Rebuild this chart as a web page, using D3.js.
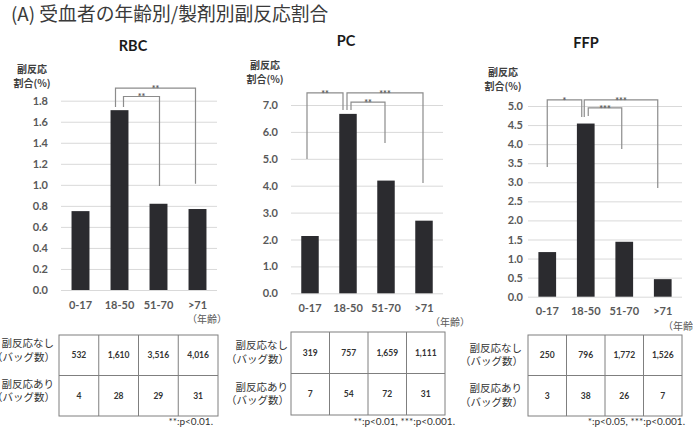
<!DOCTYPE html>
<html>
<head>
<meta charset="utf-8">
<script src="https://cdn.jsdelivr.net/npm/d3@7"></script>
<style>
  body { margin: 0; background: #fff; }
  svg { display: block; }
</style>
</head>
<body>
<svg id="chart" width="693" height="429"></svg>
<script>
// --- data ---
const ageGroups = ['0-17', '18-50', '51-70', '>71'];

const rbcRates = [0.75, 1.71, 0.82, 0.77];
const pcRates = [2.13, 6.67, 4.19, 2.70];
const ffpRates = [1.17, 4.54, 1.44, 0.46];

const rbcTicks = [0, 0.2, 0.4, 0.6, 0.8, 1.0, 1.2, 1.4, 1.6, 1.8];
const pcTicks = [0, 1, 2, 3, 4, 5, 6, 7];
const ffpTicks = [0, 0.5, 1.0, 1.5, 2.0, 2.5, 3.0, 3.5, 4.0, 4.5, 5.0];

const rbcNoReaction = [532, 1610, 3516, 4016];
const rbcReaction = [4, 28, 29, 31];
const pcNoReaction = [319, 757, 1659, 1111];
const pcReaction = [7, 54, 72, 31];
const ffpNoReaction = [250, 796, 1772, 1526];
const ffpReaction = [3, 38, 26, 7];

const rowLabels = [['副反応なし', '（バッグ数）'], ['副反応あり', '（バッグ数）']];

const rbcSig = [['18-50', '>71', '**'], ['18-50', '51-70', '**']];
const pcSig = [['0-17', '18-50', '**'], ['18-50', '>71', '***'], ['18-50', '51-70', '**']];
const ffpSig = [['0-17', '18-50', '*'], ['18-50', '>71', '***'], ['18-50', '51-70', '***']];

const rbcNote = '**:p<0.01.';
const pcNote = '**:p<0.01, ***:p<0.001.';
const ffpNote = '*:p<0.05, ***:p<0.001.';

const JP = '"Noto Sans CJK JP", sans-serif';
const LAT = 'Lato, "Noto Sans", sans-serif';
const fmt = d3.format(',');

const svg = d3.select('#chart');

svg.append('text')
    .attr('x', 11).attr('y', 21)
    .attr('font-family', JP).attr('font-size', 18.8)
    .attr('fill', '#3a3a3a')
    .text('(A) 受血者の年齢別/製剤別副反応割合');

// layout per panel (pixels, bracket levels in data units)
const panels = [
    {
        name: 'RBC', titleX: 133, titleY: 51,
        rates: rbcRates, ticks: rbcTicks, max: 1.8,
        left: 61, right: 217, zeroY: 290, topY: 100.7, labelRight: 48,
        yLabelX: 32, yLabelY: 73, unitX: 187,
        sig: rbcSig,
        brackets: [
            { top: 1.92, a: 1.74, b: 1.01, dxA: -4, dxB: -2 },
            { top: 1.84, a: 1.74, b: 0.99, dxA: 4, dxB: 1 }
        ],
        none: rbcNoReaction, some: rbcReaction, note: rbcNote,
        tLeft: 59, tRight: 218, tTop: 335, tBottom: 416, rowLabelX: 54, rowLabelDy: -3.5, noteX: 213
    },
    {
        name: 'PC', titleX: 346, titleY: 46,
        rates: pcRates, ticks: pcTicks, max: 7,
        left: 291, right: 443, zeroY: 293.3, topY: 105, labelRight: 278,
        yLabelX: 265, yLabelY: 69, unitX: 430,
        sig: pcSig,
        brackets: [
            { top: 7.45, a: 4.99, b: 6.81, dxA: -3, dxB: -5 },
            { top: 7.45, a: 6.81, b: 4.10, dxA: -1, dxB: -1 },
            { top: 7.11, a: 6.81, b: 5.59, dxA: 3, dxB: -1 }
        ],
        none: pcNoReaction, some: pcReaction, note: pcNote,
        tLeft: 291, tRight: 445, tTop: 332, tBottom: 415, rowLabelX: 288, rowLabelDy: 1, noteX: 455
    },
    {
        name: 'FFP', titleX: 586, titleY: 48,
        rates: ffpRates, ticks: ffpTicks, max: 5,
        left: 528, right: 682, zeroY: 296.7, topY: 106, labelRight: 523,
        yLabelX: 503, yLabelY: 76, unitX: 663,
        sig: ffpSig,
        brackets: [
            { top: 5.16, a: 3.40, b: 4.71, dxA: 0, dxB: -4 },
            { top: 5.16, a: 4.71, b: 2.85, dxA: -1.5, dxB: -5 },
            { top: 4.95, a: 4.74, b: 3.87, dxA: 2.5, dxB: -2.5 }
        ],
        none: ffpNoReaction, some: ffpReaction, note: ffpNote,
        tLeft: 528, tRight: 682, tTop: 335, tBottom: 416, rowLabelX: 522, rowLabelDy: 1, noteX: 685
    }
];

function drawPanel(p) {
    const g = svg.append('g');

    const x = d3.scaleBand()
        .domain(ageGroups)
        .range([p.left, p.right])
        .paddingInner(0.54)
        .paddingOuter(0.27);

    const y = d3.scaleLinear()
        .domain([0, p.max])
        .range([p.zeroY, p.topY]);

    // title
    g.append('text')
        .attr('x', p.titleX).attr('y', p.titleY)
        .attr('text-anchor', 'middle')
        .attr('font-family', LAT).attr('font-weight', 700).attr('font-size', 14.5)
        .attr('fill', '#1a1a1a')
        .text(p.name);

    // y axis label
    const yl = g.append('text')
        .attr('text-anchor', 'middle')
        .attr('font-family', JP).attr('font-weight', 700).attr('font-size', 10)
        .attr('fill', '#404040');
    yl.append('tspan').attr('x', p.yLabelX).attr('y', p.yLabelY).text('副反応');
    yl.append('tspan').attr('x', p.yLabelX).attr('y', p.yLabelY + 14).text('割合(%)');

    // gridlines + tick labels
    const yAxis = g.append('g')
        .attr('transform', `translate(${p.left},0)`)
        .call(d3.axisLeft(y)
            .tickValues(p.ticks)
            .tickFormat(d3.format('.1f'))
            .tickSize(-(p.right - p.left))
            .tickPadding(p.left - p.labelRight));
    yAxis.select('.domain').remove();
    yAxis.selectAll('.tick line').attr('stroke', '#d9d9d9');
    yAxis.selectAll('.tick text')
        .attr('font-family', LAT).attr('font-weight', 700).attr('font-size', 11)
        .attr('fill', '#595959');

    // bars
    g.append('g').selectAll('rect')
        .data(p.rates)
        .join('rect')
        .attr('x', (d, i) => x(ageGroups[i]))
        .attr('y', d => y(d))
        .attr('width', x.bandwidth())
        .attr('height', d => y(0) - y(d))
        .attr('fill', '#2b2b2f');

    // category labels
    const xAxis = g.append('g')
        .attr('transform', `translate(0,${p.zeroY})`)
        .call(d3.axisBottom(x).tickSize(0).tickPadding(11));
    xAxis.select('.domain').remove();
    xAxis.selectAll('.tick text')
        .attr('font-family', LAT).attr('font-weight', 700).attr('font-size', 11)
        .attr('fill', '#595959');

    g.append('text')
        .attr('x', p.unitX).attr('y', p.zeroY + 33)
        .attr('font-family', JP).attr('font-size', 10)
        .attr('fill', '#595959')
        .text('（年齢）');

    // significance brackets
    const cx = k => x(k) + x.bandwidth() / 2;
    p.sig.forEach((s, i) => {
        const b = p.brackets[i];
        const xa = cx(s[0]) + b.dxA;
        const xb = cx(s[1]) + b.dxB;
        g.append('path')
            .attr('d', `M${xa},${y(b.a)}V${y(b.top)}H${xb}V${y(b.b)}`)
            .attr('fill', 'none')
            .attr('stroke', '#8c8c8c')
            .attr('stroke-width', 1.2);
        g.append('text')
            .attr('x', (xa + xb) / 2).attr('y', y(b.top) + 4)
            .attr('text-anchor', 'middle')
            .attr('font-family', LAT).attr('font-weight', 700).attr('font-size', 9)
            .attr('fill', '#595959')
            .text(s[2]);
    });

    // counts table
    const tx = d3.scaleBand().domain(ageGroups).range([p.tLeft, p.tRight]);
    const ty = d3.scaleBand().domain([0, 1]).range([p.tTop, p.tBottom]);
    const rows = [p.none, p.some];

    const t = g.append('g');
    t.append('rect')
        .attr('x', p.tLeft).attr('y', p.tTop)
        .attr('width', p.tRight - p.tLeft).attr('height', p.tBottom - p.tTop)
        .attr('fill', 'none').attr('stroke', '#7f7f7f');
    t.selectAll('line.col')
        .data(ageGroups.slice(1))
        .join('line')
        .attr('class', 'col')
        .attr('x1', d => tx(d)).attr('x2', d => tx(d))
        .attr('y1', p.tTop).attr('y2', p.tBottom)
        .attr('stroke', '#7f7f7f');
    t.append('line')
        .attr('x1', p.tLeft).attr('x2', p.tRight)
        .attr('y1', ty(1)).attr('y2', ty(1))
        .attr('stroke', '#7f7f7f');

    rows.forEach((vals, r) => {
        const rc = ty(r) + ty.bandwidth() / 2;
        t.append('g').selectAll('text')
            .data(vals)
            .join('text')
            .attr('x', (d, i) => tx(ageGroups[i]) + tx.bandwidth() / 2)
            .attr('y', rc)
            .attr('dy', '0.35em')
            .attr('text-anchor', 'middle')
            .attr('font-family', LAT).attr('font-weight', 700).attr('font-size', 8.5)
            .attr('fill', '#333')
            .text(d => fmt(d));

        const lab = t.append('text')
            .attr('text-anchor', 'end')
            .attr('font-family', JP).attr('font-size', 10.5)
            .attr('fill', '#333');
        lab.append('tspan').attr('x', p.rowLabelX).attr('y', rc + p.rowLabelDy - 4.5).text(rowLabels[r][0]);
        lab.append('tspan').attr('x', p.rowLabelX + 1).attr('y', rc + p.rowLabelDy + 9).text(rowLabels[r][1]);
    });

    g.append('text')
        .attr('x', p.noteX).attr('y', 425)
        .attr('text-anchor', 'end')
        .attr('font-family', LAT).attr('font-size', 10)
        .attr('fill', '#333')
        .text(p.note);
}

panels.forEach(drawPanel);
</script>
</body>
</html>
